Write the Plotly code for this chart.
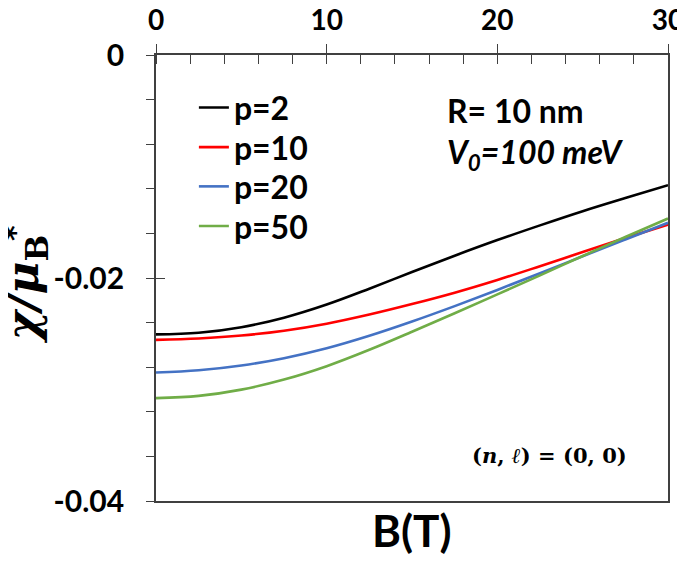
import plotly.graph_objects as go

B = [0, 2.5, 5, 7.5, 10, 12.5, 15, 17.5, 20, 22.5, 25, 27.5, 30]
p2 = [-0.02506, -0.02491, -0.02441, -0.02356, -0.02238, -0.02096, -0.01946,
      -0.01800, -0.01660, -0.01528, -0.01401, -0.01283, -0.01168]
p10 = [-0.02555, -0.02542, -0.02516, -0.02473, -0.02410, -0.02328, -0.02234,
       -0.02132, -0.02018, -0.01894, -0.01767, -0.01642, -0.01521]
p20 = [-0.02848, -0.02828, -0.02785, -0.02719, -0.02630, -0.02518, -0.02390,
       -0.02252, -0.02107, -0.01957, -0.01805, -0.01654, -0.01505]
p50 = [-0.03077, -0.03057, -0.03001, -0.02911, -0.02791, -0.02644, -0.02482,
       -0.02316, -0.02147, -0.01976, -0.01803, -0.01632, -0.01466]

series_names = ["p=2", "p=10", "p=20", "p=50"]
series_vals = [p2, p10, p20, p50]
colors = ["#000000", "#ff0000", "#4472c4", "#70ad47"]

x_ticks = [0, 10, 20, 30]
y_ticks = [0, -0.02, -0.04]
y_tick_labels = ["0", "-0.02", "-0.04"]

FONT = "Lato"
AX = "#404040"

fig = go.Figure()
legend_ids = ["legend", "legend2", "legend3", "legend4"]
for name, vals, c, lg in zip(series_names, series_vals, colors, legend_ids):
    fig.add_trace(go.Scatter(x=B, y=vals, mode="lines", name=name, legend=lg,
                             line=dict(color=c, width=2.6, shape="spline", smoothing=1.0)))

# helper trace for inner halves of major ticks
fig.add_trace(go.Scatter(x=[None], y=[None], xaxis="x2", yaxis="y2",
                         showlegend=False, hoverinfo="skip"))

leg_font = dict(family=FONT, size=32, color="black", weight="bold")
leg_y = [0.882, 0.793, 0.705, 0.616]
leg_common = dict(x=0.074, xanchor="left", yanchor="middle",
                  bgcolor="rgba(0,0,0,0)", font=leg_font, borderwidth=0)

# the page body adds an 8px margin, so the figure is 8px smaller than the window
fig.update_layout(
    width=677, height=553,
    margin=dict(l=148, r=17, t=46.5, b=60, autoexpand=False),
    paper_bgcolor="white", plot_bgcolor="white",
    font=dict(family=FONT, color="black"),
    showlegend=True,
    legend=dict(y=leg_y[0], **leg_common),
    legend2=dict(y=leg_y[1], **leg_common),
    legend3=dict(y=leg_y[2], **leg_common),
    legend4=dict(y=leg_y[3], **leg_common),
    xaxis=dict(range=[0, 30], side="top", tickvals=x_ticks, automargin=False,
               ticks="outside", ticklen=9, tickwidth=1.3, tickcolor=AX,
               ticklabelstandoff=3, ticklabeloverflow="allow",
               showline=True, linecolor=AX, linewidth=1.8, mirror=True,
               showgrid=False, zeroline=False,
               tickfont=dict(family=FONT, size=28, weight="bold"),
               minor=dict(dtick=2, ticks="inside", ticklen=9, tickwidth=1.3,
                          tickcolor=AX, showgrid=False)),
    yaxis=dict(range=[-0.04, 0], tickvals=y_ticks, ticktext=y_tick_labels,
               automargin=False,
               ticks="outside", ticklen=8, tickwidth=1.3, tickcolor=AX,
               ticklabelstandoff=16, ticklabeloverflow="allow",
               showline=True, linecolor=AX, linewidth=1.8, mirror=True,
               showgrid=False, zeroline=False,
               tickfont=dict(family=FONT, size=30, weight="bold"),
               minor=dict(dtick=0.004, ticks="outside", ticklen=8, tickwidth=1.3,
                          tickcolor=AX, showgrid=False)),
    xaxis2=dict(range=[0, 30], overlaying="x", side="top", tickvals=x_ticks,
                ticks="inside", ticklen=9, tickwidth=1.3, tickcolor=AX,
                showticklabels=False, showline=False, showgrid=False,
                zeroline=False, automargin=False),
    yaxis2=dict(range=[-0.04, 0], overlaying="y", side="left", tickvals=y_ticks,
                ticks="inside", ticklen=9, tickwidth=1.3, tickcolor=AX,
                showticklabels=False, showline=False, showgrid=False,
                zeroline=False, automargin=False),
)

fig.add_annotation(text="B(T)", xref="paper", yref="paper", x=0.5, y=-0.065,
                   xanchor="center", yanchor="middle", showarrow=False,
                   font=dict(family=FONT, size=44, weight="bold"))
fig.add_annotation(text="<i>χ/μ</i><sub>B</sub>", xref="paper", yref="paper",
                   x=-0.255, y=0.475, xanchor="center", yanchor="middle",
                   textangle=-90, showarrow=False,
                   font=dict(family="DejaVu Serif", size=45, weight="bold"))
fig.add_annotation(text="*", xref="paper", yref="paper",
                   x=-0.276, y=0.60, xanchor="center", yanchor="middle",
                   textangle=-90, showarrow=False,
                   font=dict(family="DejaVu Sans", size=30, weight="bold"))
fig.add_annotation(text="R= 10 nm", xref="paper", yref="paper",
                   x=0.564, y=0.876, xanchor="left", yanchor="middle", showarrow=False,
                   font=dict(family=FONT, size=32, weight="bold"))
fig.add_annotation(text="<i>V<sub>0</sub>=100 meV</i>", xref="paper", yref="paper",
                   x=0.564, y=0.779, xanchor="left", yanchor="middle", showarrow=False,
                   font=dict(family=FONT, size=32, weight="bold"))
fig.add_annotation(text="(<i>n</i>, <i>ℓ</i>) = (0, 0)", xref="paper", yref="paper",
                   x=0.768, y=0.103, xanchor="center", yanchor="middle", showarrow=False,
                   font=dict(family="DejaVu Serif", size=21, weight="bold"))

fig.write_html("out.html")
